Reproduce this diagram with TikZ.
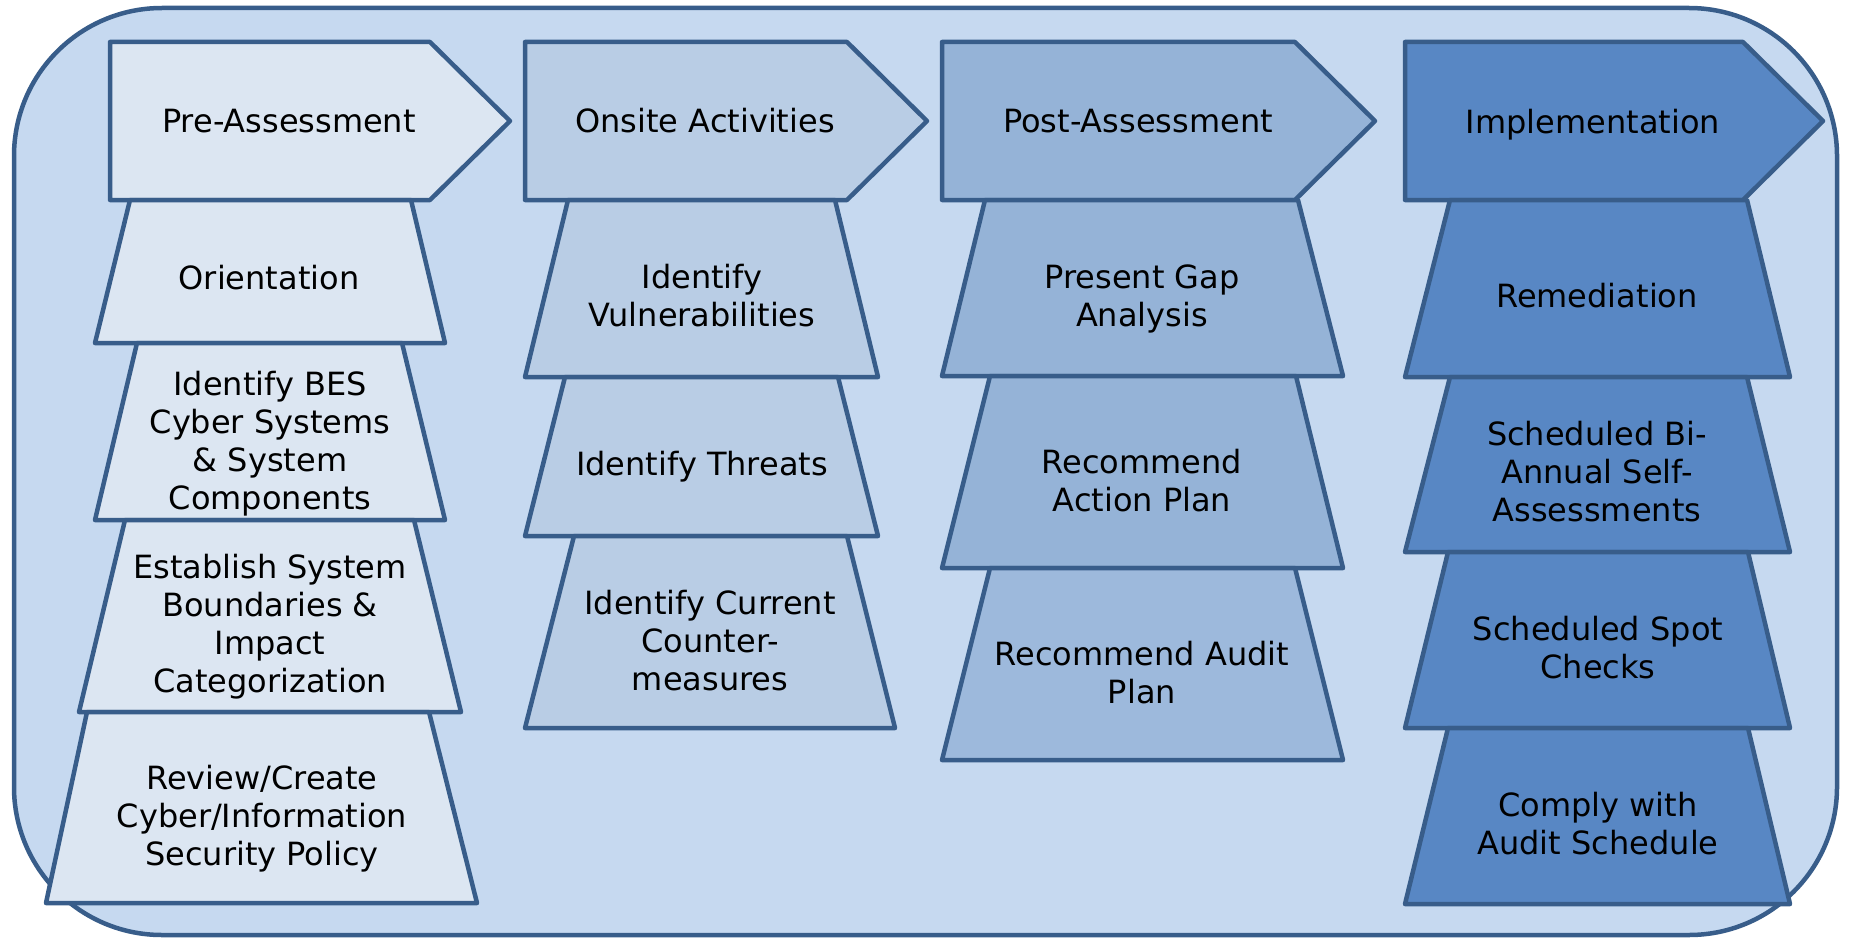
\documentclass[tikz,border=0pt]{standalone}
\usepackage{fontspec}
\setmainfont{DejaVu Sans}
\usepackage{tikz}

\definecolor{bgblue}{HTML}{C6D9F0}
\definecolor{edgeblue}{HTML}{385D8A}
\definecolor{preblue}{HTML}{DCE6F2}
\definecolor{onsblue}{HTML}{B9CDE5}
\definecolor{pstblue}{HTML}{95B3D7}
\definecolor{audblue}{HTML}{9DB9DC}
\definecolor{impblue}{HTML}{5887C4}

\begin{document}
\begin{tikzpicture}[x=1pt,y=-1pt,
  stage/.style={draw=edgeblue,line width=4.5pt,line join=round},
  lbl/.style={align=center,inner sep=0pt,font=\fontsize{32pt}{38pt}\selectfont}]
\useasboundingbox (0.000000,0.000000) rectangle (1849.000000,939.000000);
% Drawing frame
\draw[stage,fill=bgblue,rounded corners=148pt] (14.000000,8.000000) rectangle (1837.000000,935.000000);
% Done with frame; drawing column 1: Pre-Assessment
\draw[stage,fill=preblue] (110.000000,42.000000) -- (430.000000,42.000000) -- (510.000000,121.000000) -- (430.000000,200.000000) -- (110.000000,200.000000) -- cycle;
\draw[stage,fill=preblue] (130.000000,200.000000) -- (411.000000,200.000000) -- (445.000000,343.000000) -- (95.000000,343.000000) -- cycle;
\draw[stage,fill=preblue] (137.000000,343.000000) -- (402.000000,343.000000) -- (445.000000,520.000000) -- (95.000000,520.000000) -- cycle;
\draw[stage,fill=preblue] (125.000000,520.000000) -- (414.000000,520.000000) -- (461.000000,712.000000) -- (79.000000,712.000000) -- cycle;
\draw[stage,fill=preblue] (87.000000,712.000000) -- (429.000000,712.000000) -- (477.000000,903.000000) -- (46.000000,903.000000) -- cycle;
\node[lbl] (pre) at (289.000000,121.000000) {Pre-Assessment};
\node[lbl] (orient) at (269.000000,278.000000) {Orientation};
\node[lbl] (bes) at (270.000000,444.000000) {Identify BES\\Cyber Systems\\\& System\\Components};
\node[lbl] (bound) at (270.000000,627.000000) {Establish System\\Boundaries \&\\Impact\\Categorization};
\node[lbl] (policy) at (262.000000,819.000000) {Review/Create\\Cyber/Information\\Security Policy};
% Column 2: Onsite Activities
\draw[stage,fill=onsblue] (525.000000,42.000000) -- (847.000000,42.000000) -- (927.000000,121.000000) -- (847.000000,200.000000) -- (525.000000,200.000000) -- cycle;
\draw[stage,fill=onsblue] (568.000000,200.000000) -- (835.000000,200.000000) -- (878.000000,377.000000) -- (525.000000,377.000000) -- cycle;
\draw[stage,fill=onsblue] (565.000000,377.000000) -- (838.000000,377.000000) -- (878.000000,536.000000) -- (525.000000,536.000000) -- cycle;
\draw[stage,fill=onsblue] (574.000000,536.000000) -- (847.000000,536.000000) -- (895.000000,728.000000) -- (525.000000,728.000000) -- cycle;
\node[lbl] (onsite) at (705.000000,121.000000) {Onsite Activities};
\node[lbl] (vuln) at (702.000000,296.000000) {Identify\\Vulnerabilities};
\node[lbl] (threat) at (702.000000,467.000000) {Identify Threats};
\node[lbl] (counter) at (710.000000,641.000000) {Identify Current\\Counter-\\measures};
% Column 3: Post-Assessment
\draw[stage,fill=pstblue] (942.000000,42.000000) -- (1295.000000,42.000000) -- (1375.000000,121.000000) -- (1295.000000,200.000000) -- (942.000000,200.000000) -- cycle;
\draw[stage,fill=pstblue] (985.000000,200.000000) -- (1298.000000,200.000000) -- (1343.000000,376.000000) -- (942.000000,376.000000) -- cycle;
\draw[stage,fill=pstblue] (990.000000,376.000000) -- (1296.000000,376.000000) -- (1343.000000,568.000000) -- (942.000000,568.000000) -- cycle;
\draw[stage,fill=audblue] (990.000000,568.000000) -- (1295.000000,568.000000) -- (1343.000000,760.000000) -- (942.000000,760.000000) -- cycle;
\node[lbl] (post) at (1138.000000,121.000000) {Post-Assessment};
\node[lbl] (gap) at (1142.000000,299.000000) {Present Gap\\Analysis};
\node[lbl] (action) at (1142.000000,481.000000) {Recommend\\Action Plan};
\node[lbl] (audit) at (1142.000000,673.000000) {Recommend Audit\\Plan};
% Column 4: Implementation
\draw[stage,fill=impblue] (1405.000000,42.000000) -- (1743.000000,42.000000) -- (1823.000000,121.000000) -- (1743.000000,200.000000) -- (1405.000000,200.000000) -- cycle;
\draw[stage,fill=impblue] (1450.000000,200.000000) -- (1747.000000,200.000000) -- (1790.000000,377.000000) -- (1405.000000,377.000000) -- cycle;
\draw[stage,fill=impblue] (1450.000000,377.000000) -- (1747.000000,377.000000) -- (1790.000000,552.000000) -- (1405.000000,552.000000) -- cycle;
\draw[stage,fill=impblue] (1448.000000,552.000000) -- (1748.000000,552.000000) -- (1790.000000,728.000000) -- (1405.000000,728.000000) -- cycle;
\draw[stage,fill=impblue] (1448.000000,728.000000) -- (1748.000000,728.000000) -- (1790.000000,904.000000) -- (1405.000000,904.000000) -- cycle;
\node[lbl] (impl) at (1593.000000,125.000000) {Implementation};
\node[lbl] (remed) at (1597.000000,296.000000) {Remediation};
\node[lbl] (selfas) at (1597.000000,472.000000) {Scheduled Bi-\\Annual Self-\\Assessments};
\node[lbl] (spot) at (1598.000000,648.000000) {Scheduled Spot\\Checks};
\node[lbl] (comply) at (1598.000000,824.000000) {Comply with\\Audit Schedule};
% Done with columns
\end{tikzpicture}
\end{document}
